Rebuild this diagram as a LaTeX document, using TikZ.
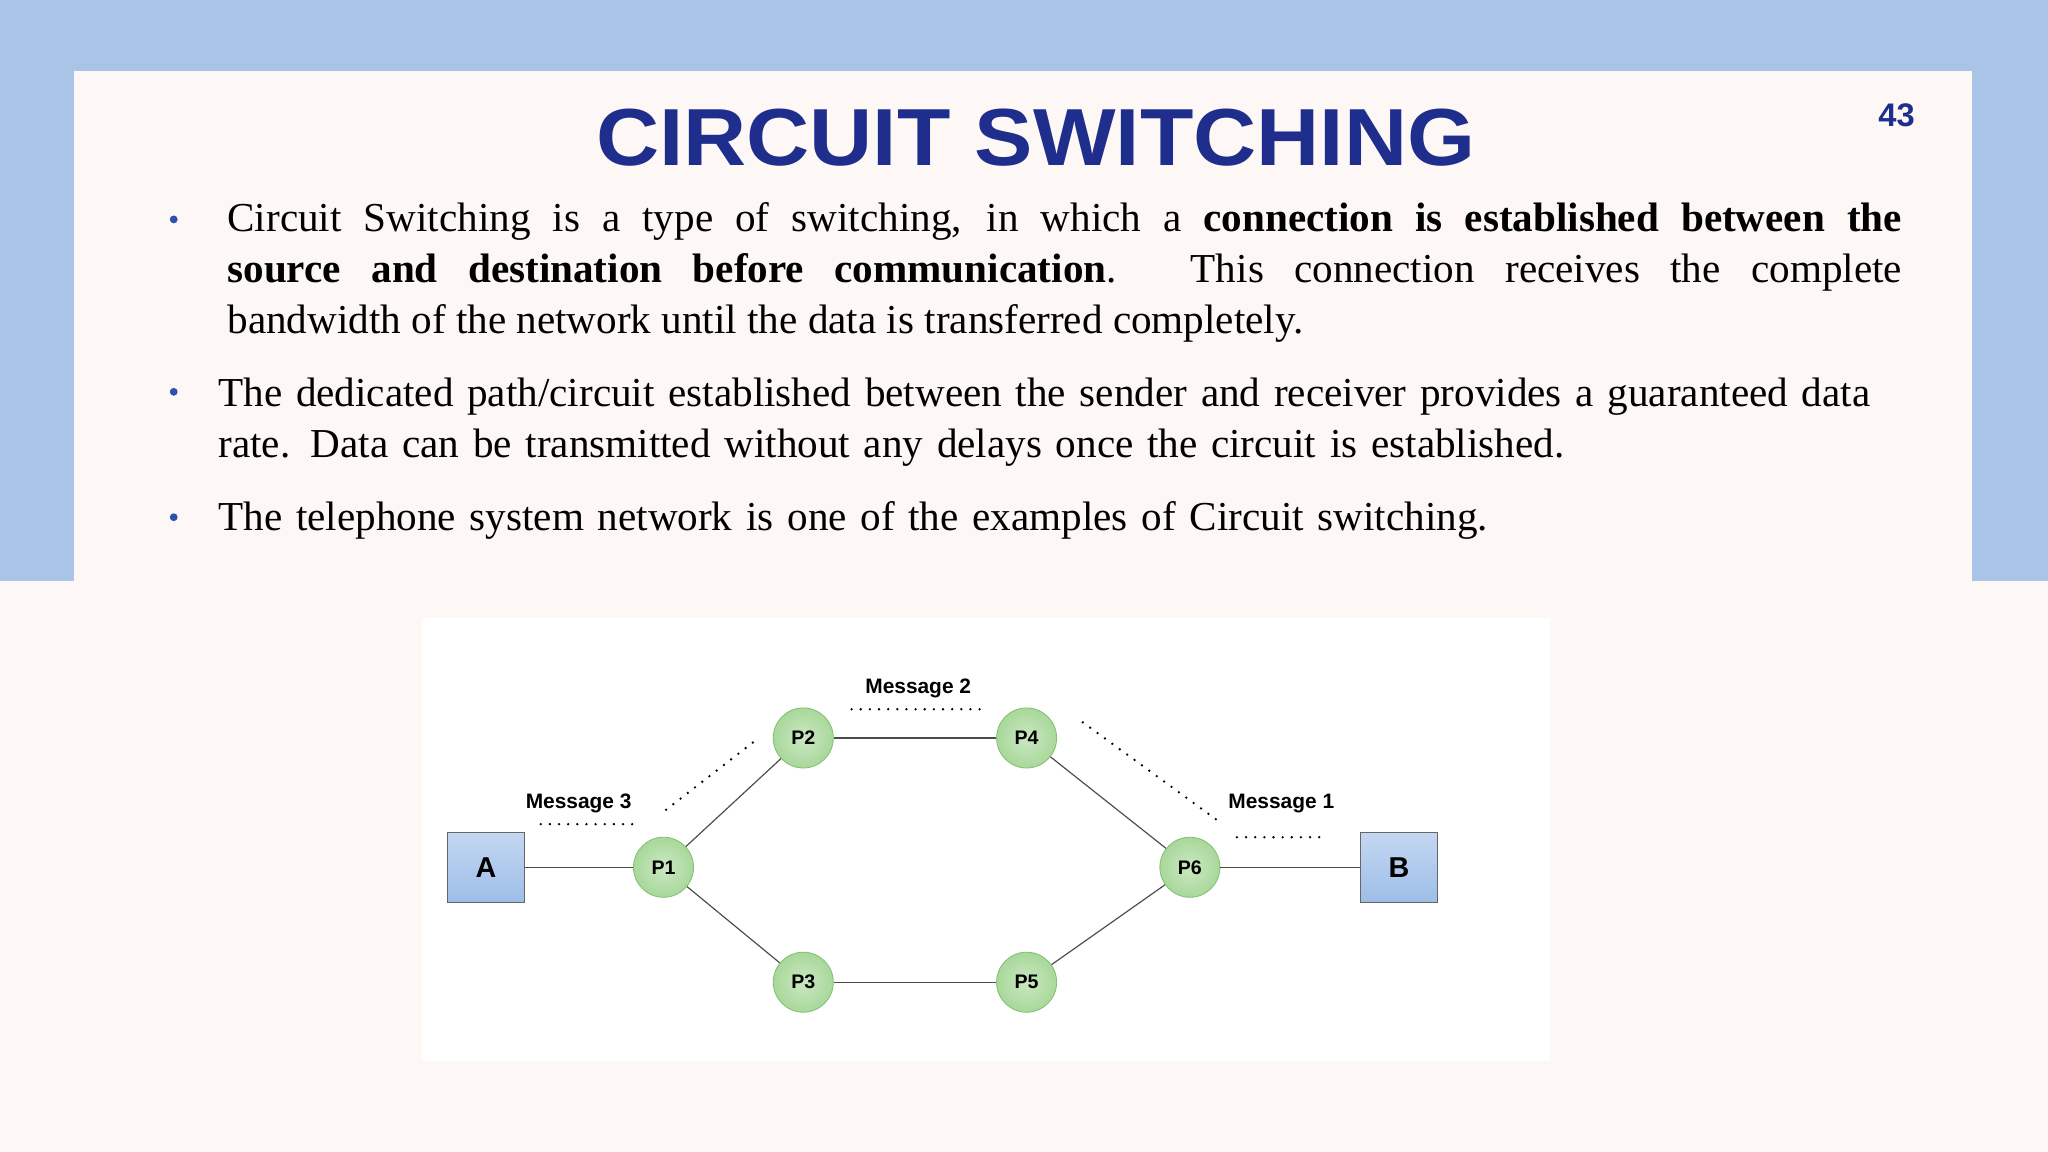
\documentclass[tikz,border=0pt]{standalone}
\usepackage{fontspec}
\setmainfont{Liberation Serif}
\newfontfamily\sansf{Liberation Sans}
\definecolor{topblue}{HTML}{AAC4E8}
\definecolor{paper}{HTML}{FDF8F5}
\definecolor{titleblue}{HTML}{1F2E8C}
\definecolor{bul}{HTML}{3050B0}
\definecolor{gfill}{HTML}{A8D89A}
\definecolor{gdark}{HTML}{7FBF6E}
\definecolor{boxblue}{HTML}{9DBDE8}
\begin{document}
\begin{tikzpicture}[x=1pt,y=-1pt,
  pnode/.style={circle,minimum size=46pt,inner sep=0pt,draw=gdark,line width=0.6pt,
    inner color=gfill!60!white,outer color=gfill,font=\sansf\bfseries\fontsize{15}{15}\selectfont},
  bnode/.style={rectangle,minimum width=59pt,minimum height=54pt,draw=gray!80!black,line width=0.6pt,
    top color=boxblue!60!white,bottom color=boxblue,font=\sansf\bfseries\fontsize{22}{22}\selectfont},
  link/.style={draw=gray!60!black,line width=0.9pt},
  dots/.style={line width=2pt,line cap=round,dash pattern=on 0pt off 7pt},
  msg/.style={font=\sansf\bfseries\fontsize{16}{16}\selectfont},
  para/.style={anchor=north west,inner sep=0pt,font=\fontsize{31.5}{39}\selectfont},
  bdot/.style={circle,fill=bul,inner sep=0pt,minimum size=6pt}]
\useasboundingbox (0,0) rectangle (1568,882);
\fill[paper] (0,0) rectangle (1568,882);
\fill[topblue] (0,0) rectangle (1568,445);
\fill[paper] (57,54) rectangle (1510,446);
\node[font=\sansf\bfseries\fontsize{62}{62}\selectfont,text=titleblue] (title) at (793,105) {\scalebox{1.08}[1]{CIRCUIT SWITCHING}};
\node[font=\sansf\bfseries\fontsize{25}{25}\selectfont,text=titleblue] (pg) at (1452,88) {43};
\node[bdot] (b1) at (133,168) {};
\node[bdot] (b2) at (133,300) {};
\node[bdot] (b3) at (133,396) {};
\node[para,text width=1282pt,align=justify] (t1) at (174,155) {Circuit Switching is a type of switching, in which a \textbf{connection is established between the}\linebreak \textbf{source and destination before communication}. This connection receives the complete\linebreak bandwidth of the network until the data is transferred completely.};
\node[para,text width=1320pt,align=left] (t2) at (167,289) {The dedicated path/circuit established between the sender and receiver provides a guaranteed data\\ rate. Data can be transmitted without any delays once the circuit is established.};
\node[para,text width=1300pt,align=left] (t3) at (167,384) {The telephone system network is one of the examples of Circuit switching.};
\fill[white] (323,473) rectangle (1187,812);
\node[bnode] (A) at (372,664) {A};
\node[bnode] (B) at (1071,664) {B};
\node[pnode] (P1) at (508,664) {P1};
\node[pnode] (P2) at (615,565) {P2};
\node[pnode] (P4) at (786,565) {P4};
\node[pnode] (P3) at (615,752) {P3};
\node[pnode] (P5) at (786,752) {P5};
\node[pnode] (P6) at (911,664) {P6};
\draw[link] (A) -- (P1); \draw[link] (P1) -- (P2); \draw[link] (P1) -- (P3);
\draw[link] (P2) -- (P4); \draw[link] (P3) -- (P5); \draw[link] (P4) -- (P6);
\draw[link] (P5) -- (P6); \draw[link] (P6) -- (B);
\node[msg] (m2) at (703,527) {Message 2};
\node[msg] (m3) at (443,615) {Message 3};
\node[msg] (m1) at (981,615) {Message 1};
\coordinate (d2a) at (652,543); \coordinate (d2b) at (757,543);
\coordinate (d3a) at (414,631); \coordinate (d3b) at (491,631);
\coordinate (d1a) at (947,641); \coordinate (d1b) at (1017,641);
\coordinate (e1a) at (510,620); \coordinate (e1b) at (577,568);
\coordinate (e2a) at (829,553); \coordinate (e2b) at (932,628);
\draw[dots] (d2a) -- (d2b); \draw[dots] (d3a) -- (d3b); \draw[dots] (d1a) -- (d1b);
\draw[dots] (e1a) -- (e1b); \draw[dots] (e2a) -- (e2b);
\end{tikzpicture}
\end{document}
